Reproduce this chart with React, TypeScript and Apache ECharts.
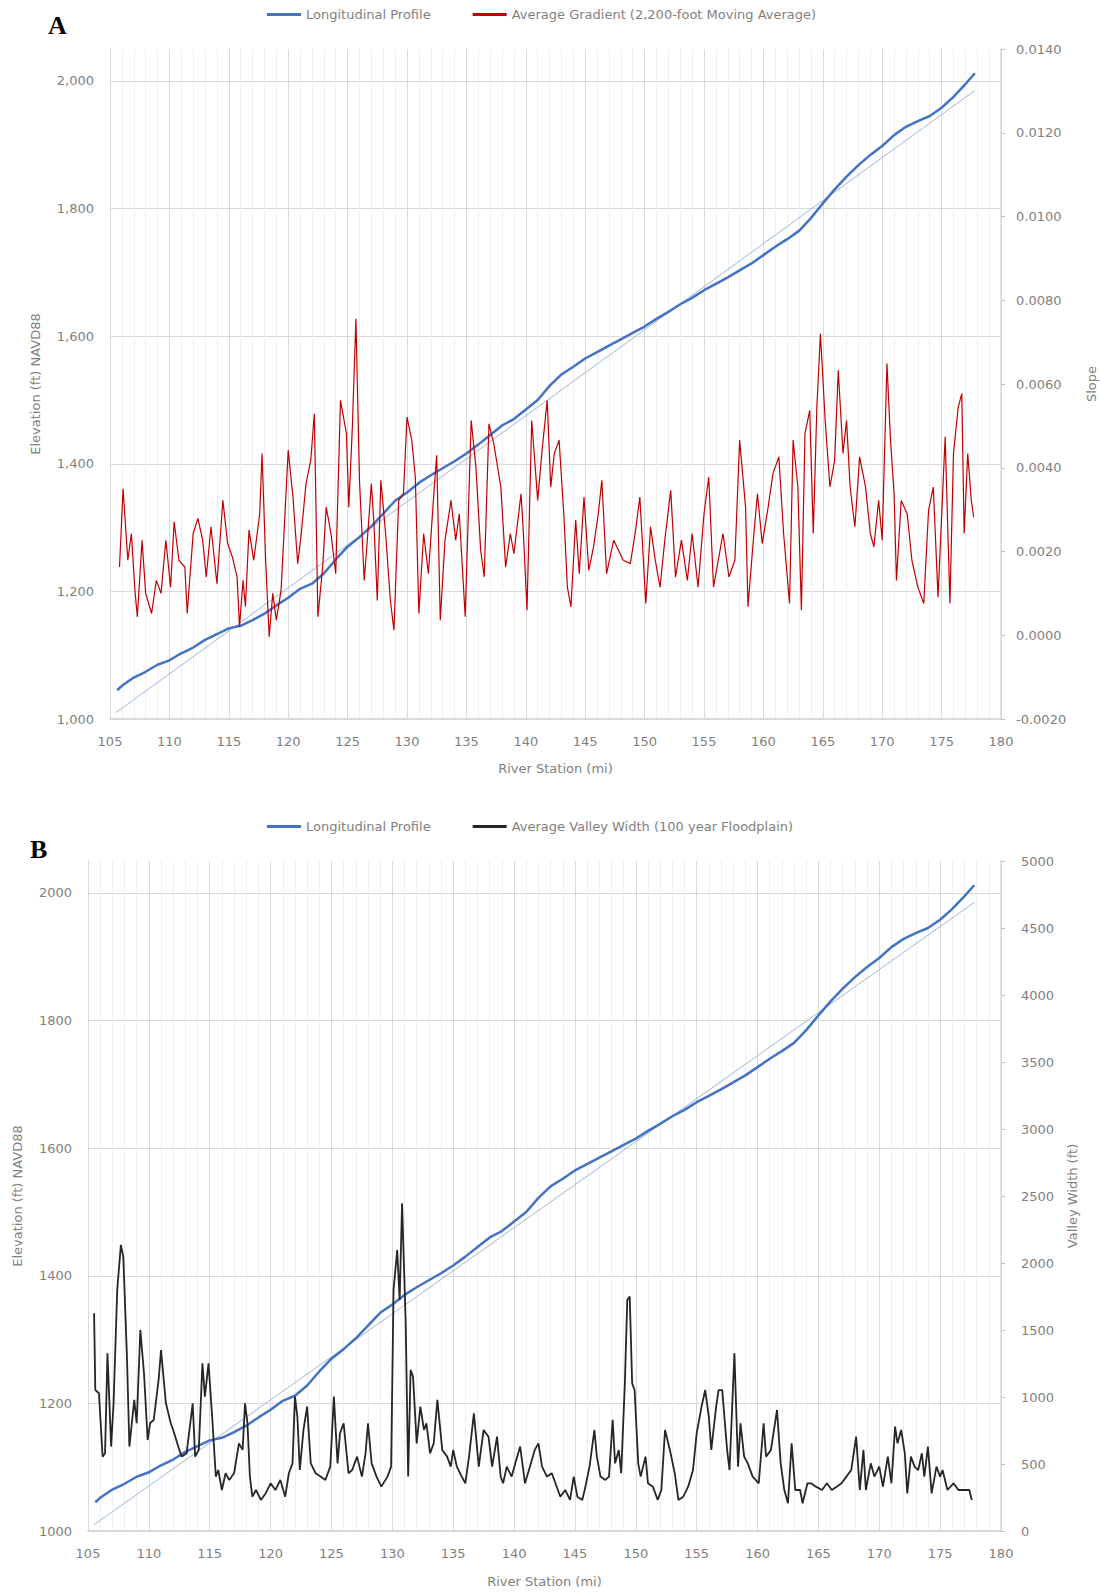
import React, { useEffect, useRef } from "react";
import * as echarts from "echarts";

// ---------- DATA ----------
const profileStations = [105.6, 106, 107, 108, 109, 110, 111, 112, 113, 114, 115, 116, 117, 118, 119, 120, 121, 122, 123, 124, 125, 126, 127, 128, 129, 130, 131, 132, 133, 134, 135, 136, 137, 138, 139, 140, 141, 142, 143, 144, 145, 146, 147, 148, 149, 150, 151, 152, 153, 154, 155, 156, 157, 158, 159, 160, 161, 162, 163, 164, 165, 166, 167, 168, 169, 170, 171, 172, 173, 174, 175, 176, 177, 177.8];
const profileElevation = [1045, 1052, 1065, 1074, 1085, 1092, 1103, 1112, 1124, 1133, 1142, 1146, 1155, 1165, 1178, 1190, 1204, 1212, 1228, 1250, 1270, 1285, 1302, 1322, 1342, 1355, 1370, 1382, 1393, 1404, 1416, 1430, 1445, 1460, 1470, 1485, 1500, 1522, 1540, 1552, 1565, 1575, 1585, 1595, 1605, 1615, 1627, 1638, 1650, 1660, 1672, 1682, 1692, 1703, 1714, 1727, 1740, 1752, 1765, 1785, 1808, 1830, 1850, 1868, 1884, 1898, 1915, 1928, 1937, 1945, 1958, 1975, 1995, 2012];

const trendStations = [105.5, 177.8];
const trendElevation = [1010, 1985];

const gradientStations = [105.8, 106.1, 106.5, 106.8, 107.1, 107.3, 107.7, 108.0, 108.5, 108.9, 109.3, 109.7, 110.1, 110.4, 110.8, 111.3, 111.5, 112.0, 112.4, 112.8, 113.1, 113.5, 114.0, 114.5, 114.9, 115.3, 115.7, 115.9, 116.2, 116.4, 116.7, 117.1, 117.6, 117.8, 118.1, 118.4, 118.7, 119.0, 119.4, 120.0, 120.4, 120.8, 121.1, 121.5, 121.9, 122.2, 122.5, 122.9, 123.2, 123.6, 124.0, 124.4, 124.9, 125.1, 125.4, 125.7, 126.0, 126.4, 126.7, 127.0, 127.2, 127.5, 127.8, 128.2, 128.6, 128.9, 129.3, 129.7, 130.0, 130.4, 130.7, 131.0, 131.4, 131.8, 132.3, 132.5, 132.8, 133.2, 133.7, 134.1, 134.4, 134.9, 135.4, 135.8, 136.2, 136.5, 136.9, 137.3, 137.9, 138.3, 138.7, 139.0, 139.6, 139.8, 140.1, 140.5, 141.0, 141.4, 141.8, 142.1, 142.4, 142.8, 143.2, 143.5, 143.8, 144.2, 144.5, 144.9, 145.3, 145.7, 146.1, 146.4, 146.8, 147.4, 147.8, 148.2, 148.8, 149.2, 149.6, 150.1, 150.5, 150.9, 151.3, 151.7, 152.2, 152.6, 153.1, 153.6, 154.0, 154.5, 155.0, 155.4, 155.8, 156.2, 156.6, 157.1, 157.6, 158.0, 158.5, 158.7, 159.2, 159.5, 159.9, 160.4, 160.8, 161.3, 161.7, 162.2, 162.5, 162.9, 163.2, 163.5, 163.9, 164.2, 164.5, 164.8, 165.2, 165.6, 166.0, 166.3, 166.7, 167.0, 167.3, 167.7, 168.1, 168.6, 169.0, 169.3, 169.7, 170.0, 170.4, 170.7, 171.0, 171.2, 171.6, 172.1, 172.5, 173.0, 173.5, 173.9, 174.3, 174.7, 175.3, 175.7, 176.0, 176.4, 176.7, 176.9, 177.2, 177.5, 177.7];
// slope values in thousandths (x 1000)
const gradientX1000 = [1.63, 3.5, 1.79, 2.43, 1.07, 0.44, 2.27, 1.0, 0.52, 1.31, 1.0, 2.27, 1.15, 2.71, 1.79, 1.63, 0.52, 2.43, 2.79, 2.27, 1.39, 2.59, 1.23, 3.22, 2.19, 1.87, 1.39, 0.2, 1.31, 0.68, 2.51, 1.79, 2.9, 4.34, 1.79, -0.04, 1.0, 0.36, 1.07, 4.42, 3.3, 1.71, 2.43, 3.62, 4.18, 5.29, 0.44, 1.63, 3.06, 2.43, 1.47, 5.61, 4.82, 3.06, 4.97, 7.56, 3.7, 1.31, 2.43, 3.62, 2.75, 0.83, 3.7, 2.43, 0.83, 0.12, 3.22, 3.38, 5.21, 4.66, 3.78, 0.52, 2.43, 1.47, 3.54, 4.3, 0.36, 2.27, 3.22, 2.27, 2.9, 0.44, 5.13, 4.02, 2.03, 1.39, 5.05, 4.58, 3.54, 1.63, 2.43, 1.95, 3.38, 2.43, 0.6, 5.13, 3.22, 4.5, 5.61, 3.54, 4.34, 4.66, 2.9, 1.15, 0.68, 2.75, 1.47, 3.3, 1.55, 2.11, 2.9, 3.7, 1.47, 2.27, 2.03, 1.79, 1.71, 2.43, 3.3, 0.76, 2.59, 1.79, 1.15, 2.27, 3.46, 1.39, 2.27, 1.31, 2.43, 1.15, 2.9, 3.78, 1.15, 1.79, 2.43, 1.39, 1.79, 4.66, 3.06, 0.68, 2.43, 3.38, 2.19, 3.06, 3.86, 4.26, 2.43, 0.76, 4.66, 3.54, 0.6, 4.82, 5.37, 2.43, 5.45, 7.2, 5.13, 3.54, 4.18, 6.33, 4.34, 5.13, 3.54, 2.59, 4.26, 3.54, 2.43, 2.11, 3.22, 2.27, 6.49, 4.66, 3.38, 1.31, 3.22, 2.9, 1.79, 1.15, 0.76, 2.98, 3.54, 0.91, 4.74, 0.76, 4.34, 5.45, 5.77, 2.43, 4.34, 3.22, 2.82];

const widthStations = [105.5, 105.6, 105.9, 106.2, 106.4, 106.6, 106.9, 107.1, 107.4, 107.7, 107.9, 108.2, 108.4, 108.8, 109.0, 109.3, 109.6, 109.9, 110.1, 110.4, 110.8, 111.0, 111.4, 111.8, 112.0, 112.5, 112.7, 113.1, 113.6, 113.8, 114.1, 114.4, 114.6, 114.9, 115.2, 115.5, 115.7, 116.0, 116.3, 116.6, 117.0, 117.4, 117.7, 117.9, 118.1, 118.3, 118.5, 118.8, 119.2, 119.6, 120.0, 120.4, 120.8, 121.2, 121.5, 121.8, 122.0, 122.2, 122.4, 122.7, 123.0, 123.3, 123.7, 124.1, 124.5, 124.9, 125.2, 125.5, 125.7, 126.0, 126.4, 126.7, 127.1, 127.5, 127.8, 128.0, 128.3, 128.7, 129.1, 129.6, 129.9, 130.1, 130.4, 130.6, 130.8, 131.1, 131.3, 131.5, 131.7, 132.0, 132.3, 132.6, 132.8, 133.1, 133.4, 133.7, 134.1, 134.5, 134.8, 135.0, 135.3, 135.7, 136.0, 136.3, 136.7, 137.1, 137.5, 137.9, 138.2, 138.6, 138.9, 139.1, 139.4, 139.8, 140.1, 140.5, 140.9, 141.3, 141.7, 142.0, 142.3, 142.7, 143.1, 143.4, 143.8, 144.2, 144.6, 144.9, 145.2, 145.6, 145.8, 146.2, 146.6, 146.8, 147.1, 147.5, 147.8, 148.1, 148.3, 148.6, 148.8, 149.1, 149.3, 149.5, 149.7, 149.9, 150.2, 150.4, 150.8, 151.0, 151.4, 151.8, 152.1, 152.4, 152.8, 153.2, 153.5, 153.9, 154.3, 154.7, 155.0, 155.4, 155.7, 156.0, 156.2, 156.6, 156.8, 157.1, 157.5, 157.7, 158.1, 158.4, 158.6, 158.9, 159.2, 159.6, 160.1, 160.5, 160.7, 161.1, 161.6, 161.9, 162.2, 162.5, 162.8, 163.1, 163.5, 163.7, 164.1, 164.4, 164.8, 165.3, 165.7, 166.1, 166.5, 166.9, 167.3, 167.7, 168.1, 168.4, 168.7, 168.9, 169.3, 169.6, 170.0, 170.3, 170.7, 171.0, 171.3, 171.5, 171.8, 172.1, 172.3, 172.6, 172.9, 173.2, 173.5, 173.7, 174.0, 174.3, 174.7, 175.0, 175.2, 175.6, 176.1, 176.5, 177.0, 177.4, 177.6];
const widthFt = [1625, 1052, 1028, 555, 580, 1326, 630, 953, 1799, 2135, 2048, 1301, 630, 978, 804, 1500, 1177, 679, 804, 829, 1127, 1351, 953, 804, 754, 605, 555, 580, 953, 555, 605, 1251, 1003, 1251, 853, 406, 455, 306, 431, 381, 431, 654, 605, 953, 804, 406, 256, 306, 232, 282, 356, 306, 381, 256, 431, 505, 1003, 853, 455, 754, 928, 505, 431, 406, 381, 480, 1003, 505, 729, 804, 431, 455, 555, 406, 580, 804, 505, 406, 331, 406, 480, 1799, 2097, 1724, 2446, 1550, 406, 1202, 1152, 654, 928, 754, 804, 580, 654, 978, 605, 555, 480, 605, 480, 406, 356, 555, 878, 480, 754, 704, 480, 704, 406, 356, 480, 406, 505, 630, 356, 480, 605, 654, 480, 406, 431, 356, 256, 306, 232, 406, 256, 232, 306, 480, 754, 555, 406, 381, 406, 829, 505, 605, 431, 1102, 1724, 1749, 1102, 1052, 505, 406, 555, 356, 331, 232, 306, 754, 605, 431, 232, 256, 331, 455, 729, 928, 1052, 853, 605, 928, 1052, 1052, 605, 455, 1326, 480, 804, 555, 505, 406, 356, 804, 555, 605, 903, 505, 306, 207, 654, 306, 306, 207, 356, 356, 331, 306, 356, 306, 331, 356, 406, 455, 704, 306, 605, 306, 505, 406, 480, 331, 555, 356, 779, 654, 754, 580, 281, 555, 480, 455, 580, 406, 629, 281, 480, 406, 455, 306, 356, 306, 306, 306, 232];

const slopeTicks = { min: -0.002, max: 0.014, step: 0.002 };
const widthTicks = { min: 0, max: 5000, step: 500 };
const elevTicks = { min: 1000, max: 2050, step: 200 };
const stationTicks = { min: 105, max: 180, step: 5 };

const zip = (xs: number[], ys: number[]) => xs.map((x, i) => [x, ys[i]]);

const FONT = "DejaVu Sans";
const GREY = "#7f7f7f";
const GRID_MAJOR = "#d9d9d9";
const GRID_MINOR = "#efefef";

function xAxisFor(gridIndex: number, margin: number, nameGap: number) {
  return {
    gridIndex,
    type: "value",
    min: stationTicks.min,
    max: stationTicks.max,
    interval: stationTicks.step,
    axisLine: { show: true, onZero: false, lineStyle: { color: GRID_MAJOR, width: 2 } },
    axisTick: { show: false },
    axisLabel: { color: GREY, fontFamily: FONT, fontSize: 13, margin },
    splitLine: { show: true, lineStyle: { color: GRID_MAJOR, width: 1 } },
    minorTick: { show: false, splitNumber: 5 },
    minorSplitLine: { show: true, lineStyle: { color: GRID_MINOR, width: 1 } },
    name: "River Station (mi)",
    nameLocation: "middle",
    nameGap,
    nameTextStyle: { color: GREY, fontFamily: FONT, fontSize: 13 },
  };
}

function leftAxisFor(gridIndex: number, comma: boolean, margin: number, nameGap: number) {
  return {
    gridIndex,
    type: "value",
    position: "left",
    min: elevTicks.min,
    max: elevTicks.max,
    interval: elevTicks.step,
    axisLine: { show: true, onZero: false, lineStyle: { color: GRID_MAJOR, width: 1 } },
    axisTick: { show: false },
    axisLabel: {
      color: GREY,
      fontFamily: FONT,
      fontSize: 13,
      margin,
      showMaxLabel: false,
      formatter: (v: number) => (comma ? v.toLocaleString("en-US") : String(v)),
    },
    splitLine: { show: true, showMaxLine: false, lineStyle: { color: GRID_MAJOR, width: 1 } },
    name: "Elevation (ft) NAVD88",
    nameLocation: "middle",
    nameGap,
    nameTextStyle: { color: GREY, fontFamily: FONT, fontSize: 13 },
  };
}

function rightAxisFor(gridIndex: number, t: { min: number; max: number; step: number }, name: string, fmt: (v: number) => string, margin: number, nameGap: number) {
  return {
    gridIndex,
    type: "value",
    position: "right",
    min: t.min,
    max: t.max,
    interval: t.step,
    axisLine: { show: true, onZero: false, lineStyle: { color: GRID_MAJOR, width: 1.5 } },
    axisTick: { show: true, inside: false, length: 4, lineStyle: { color: "#bfbfbf" } },
    axisLabel: { color: GREY, fontFamily: FONT, fontSize: 13, margin, formatter: fmt },
    splitLine: { show: false },
    name,
    nameLocation: "middle",
    nameGap,
    nameTextStyle: { color: GREY, fontFamily: FONT, fontSize: 13 },
  };
}

const lineSeries = (name: string, data: number[][], xi: number, yi: number, color: string, width: number, z: number) => ({
  name,
  type: "line",
  xAxisIndex: xi,
  yAxisIndex: yi,
  data,
  showSymbol: false,
  symbol: "none",
  smooth: false,
  lineStyle: { color, width },
  itemStyle: { color },
  z,
  silent: true,
});

export default function App() {
  const ref = useRef<HTMLDivElement>(null);

  useEffect(() => {
    if (!ref.current) return;
    document.body.style.margin = "0";
    const chart = echarts.init(ref.current, undefined, { renderer: "svg" });

    const profile = zip(profileStations, profileElevation);
    const trend = zip(trendStations, trendElevation);
    const gradient = zip(gradientStations, gradientX1000.map((v) => v / 1000));
    const width = zip(widthStations, widthFt);

    const legendCommon = {
      left: 262,
      itemWidth: 34,
      itemHeight: 3,
      itemGap: 42,
      icon: "rect",
      textStyle: { color: GREY, fontFamily: FONT, fontSize: 13 },
      selectedMode: false,
    };

    chart.setOption({
      animation: false,
      backgroundColor: "#ffffff",
      grid: [
        { left: 110, top: 49, width: 891, height: 670, outerBoundsMode: "none", containLabel: false },
        { left: 88, top: 861, width: 913, height: 670, outerBoundsMode: "none", containLabel: false },
      ],
      legend: [
        { ...legendCommon, top: 3, data: ["Longitudinal Profile", "Average Gradient (2,200-foot Moving Average)"] },
        { ...legendCommon, top: 815, data: ["Longitudinal Profile", "Average Valley Width (100 year Floodplain)"] },
      ],
      xAxis: [xAxisFor(0, 16, 43), xAxisFor(1, 16, 44)],
      yAxis: [
        leftAxisFor(0, true, 16, 68),
        rightAxisFor(0, slopeTicks, "Slope", (v: number) => v.toFixed(4), 15, 84),
        leftAxisFor(1, false, 16, 64),
        rightAxisFor(1, widthTicks, "Valley Width (ft)", (v: number) => String(v), 20, 65),
      ],
      series: [
        lineSeries("Linear (Longitudinal Profile)", trend, 0, 0, "#9db5e0", 1, 2),
        lineSeries("Longitudinal Profile", profile, 0, 0, "#4472c4", 2.5, 3),
        lineSeries("Average Gradient (2,200-foot Moving Average)", gradient, 0, 1, "#c00000", 1.2, 4),
        lineSeries("Linear (Longitudinal Profile) B", trend, 1, 2, "#9db5e0", 1, 2),
        lineSeries("Longitudinal Profile", profile, 1, 2, "#4472c4", 2.5, 3),
        lineSeries("Average Valley Width (100 year Floodplain)", width, 1, 3, "#262626", 1.8, 4),
      ],
      graphic: [
        { type: "text", left: 48, top: 12, style: { text: "A", font: "bold 26px 'Liberation Serif'", fill: "#000" } },
        { type: "text", left: 30, top: 836, style: { text: "B", font: "bold 26px 'Liberation Serif'", fill: "#000" } },
      ],
    });

    return () => chart.dispose();
  }, []);

  return (
    <div
      ref={ref}
      style={{ position: "absolute", left: 0, top: 0, width: 1100, height: 1594, background: "#fff" }}
    />
  );
}
